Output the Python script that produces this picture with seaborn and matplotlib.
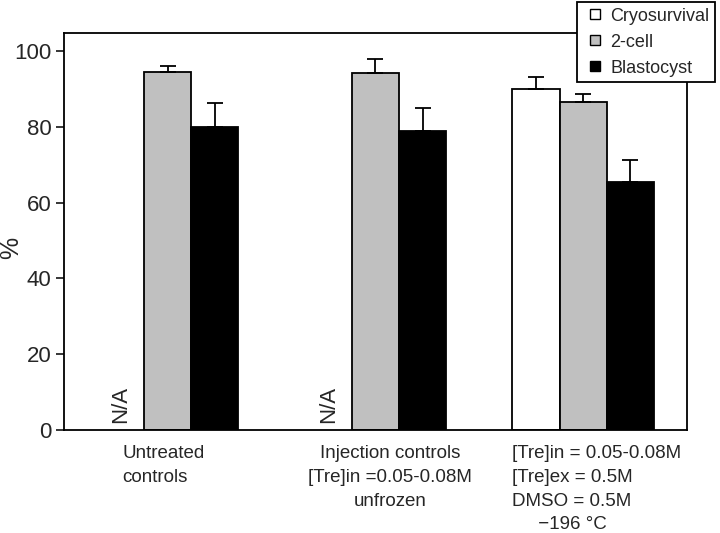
import numpy as np
import pandas as pd
import matplotlib
matplotlib.use('Agg')
import matplotlib.pyplot as plt
from matplotlib.lines import Line2D
import seaborn as sns

groups = ['Untreated controls', 'Injection controls', 'Frozen']
measures = ['Cryosurvival', '2-cell', 'Blastocyst']
colors = ['white', '#c0c0c0', 'black']
cryo = [np.nan, np.nan, 90.0]
cryo_err = [np.nan, np.nan, 3.1]
two_cell = [94.5, 94.2, 86.5]
two_cell_err = [1.5, 3.7, 2.2]
blasto = [80.0, 78.9, 65.4]
blasto_err = [6.3, 6.1, 5.8]
group_labels = ['Untreated\ncontrols',
                'Injection controls\n[Tre]in =0.05-0.08M\nunfrozen',
                '[Tre]in = 0.05-0.08M\n[Tre]ex = 0.5M\nDMSO = 0.5M\n     \u2212196 \u00b0C']

df = pd.DataFrame({
    'group': groups * 3,
    'measure': [m for m in measures for _ in groups],
    'value': cryo + two_cell + blasto,
    'err': cryo_err + two_cell_err + blasto_err,
})

sns.set_style('white')
plt.rcParams['font.family'] = ['Liberation Sans', 'DejaVu Sans']

fig = plt.figure(figsize=(7.2, 5.33), dpi=100)
ax = fig.add_axes([0.089, 0.193, 0.865, 0.745])

sns.barplot(data=df.dropna(subset=['value']), x='group', y='value', hue='measure',
            order=groups, hue_order=measures, palette=colors,
            edgecolor='black', linewidth=1.3, width=0.68, saturation=1,
            errorbar=None, legend=False, ax=ax)

# upper error bars only
for cont, m in zip(ax.containers, measures):
    sub = df[df['measure'] == m].dropna(subset=['value'])
    for bar, (_, row) in zip(cont, sub.iterrows()):
        xc = bar.get_x() + bar.get_width() / 2
        ax.errorbar(xc, row['value'], yerr=[[0], [row['err']]], fmt='none',
                    ecolor='black', elinewidth=1.3, capsize=6, capthick=1.3)

# N/A markers in empty cryosurvival slots
for i, g in enumerate(groups):
    if np.isnan(cryo[i]):
        ax.text(i - 0.68 / 3, 1.8, 'N/A', rotation=90, ha='center', va='bottom',
                fontsize=16)

ax.set_xlim(-0.5, 2.5)
ax.set_ylim(0, 104.7)
ax.set_yticks([0, 20, 40, 60, 80, 100])
ax.tick_params(axis='y', direction='out', length=6, width=1.3, labelsize=16,
               left=True, pad=3)
ax.tick_params(axis='x', bottom=False)
ax.set_xticks([])
ax.set_xlabel('')
ax.set_ylabel('')
fig.text(11 / 720, 1 - 248 / 533, '%', rotation=90, ha='center', va='center',
         fontsize=18)
for s in ax.spines.values():
    s.set_linewidth(1.3)
    s.set_color('black')

# category labels under each group
trans = ax.get_xaxis_transform()
lab_kw = dict(transform=trans, va='top', fontsize=13.5, linespacing=1.53)
ax.text(-0.02, -0.037, group_labels[0], ha='center', multialignment='left', **lab_kw)
ax.text(1.07, -0.037, group_labels[1], ha='center', multialignment='center', **lab_kw)
ax.text(1.66, -0.037, group_labels[2], ha='left', multialignment='left', **lab_kw)

handles = [Line2D([], [], linestyle='none', marker='s', markersize=7.5,
                  markerfacecolor=c, markeredgecolor='black', markeredgewidth=1.0)
           for c in colors]
leg = ax.legend(handles, measures, loc='lower left', bbox_to_anchor=(577 / 720, 1 - 82 / 533),
                bbox_transform=fig.transFigure, frameon=True, fancybox=False,
                fontsize=13, handlelength=1.4, handletextpad=0.15,
                labelspacing=0.5, borderpad=0.3, borderaxespad=0)
leg.get_frame().set_edgecolor('black')
leg.get_frame().set_linewidth(1.3)
leg.get_frame().set_alpha(1)

fig.savefig('out.png', dpi=100)
